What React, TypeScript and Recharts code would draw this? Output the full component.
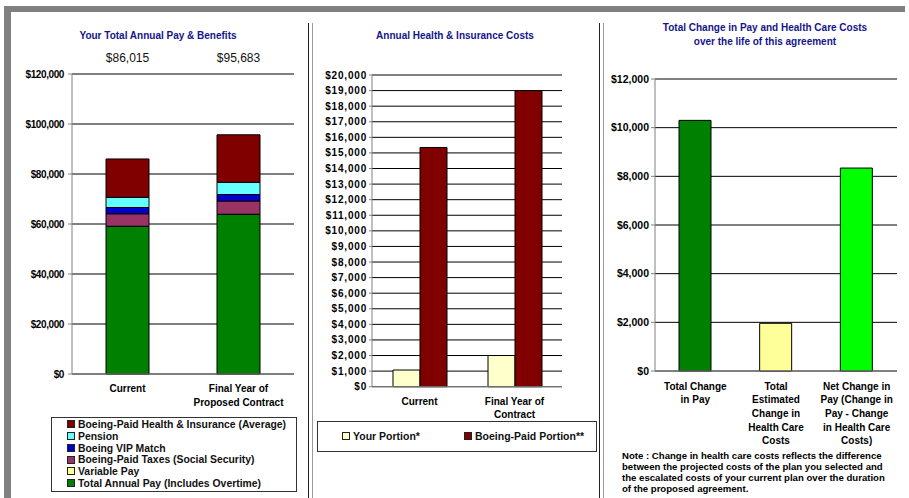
import { Bar, BarChart, CartesianGrid, Cell, XAxis, YAxis } from "recharts";

const FONT = '"Liberation Sans", Arial, Helvetica, sans-serif';
const NARROW = '"Liberation Sans Narrow", "Liberation Sans", Arial, sans-serif';
const TITLE_BLUE = "#14148c";
const AXIS_GRAY = "#808080";

// panel 1: total annual pay & benefits
const payCategories = ["Current", "Final Year of\nProposed Contract"];
const totalAnnualPay = [59100, 63900];
const variablePay = [0, 0];
const paidTaxes = [5000, 5300];
const vipMatch = [2500, 2600];
const pension = [4065, 4883];
const healthInsurance = [15350, 19000];
const payTicks = [0, 20000, 40000, 60000, 80000, 100000, 120000];

// panel 2: annual health & insurance costs
const healthCategories = ["Current", "Final Year of\nContract"];
const yourPortion = [1070, 2000];
const boeingPortion = [15350, 19000];
const healthTicks = [
  0, 1000, 2000, 3000, 4000, 5000, 6000, 7000, 8000, 9000, 10000, 11000, 12000,
  13000, 14000, 15000, 16000, 17000, 18000, 19000, 20000,
];

// panel 3: total change over the life of the agreement
const changeCategories = [
  "Total Change\nin Pay",
  "Total\nEstimated\nChange in\nHealth Care\nCosts",
  "Net Change in\nPay (Change in\nPay - Change\nin Health Care\nCosts)",
];
const changeValues = [10300, 1960, 8340];
const changeTicks = [0, 2000, 4000, 6000, 8000, 10000, 12000];
const changeColors = ["#008000", "#ffff99", "#00ff00"];

const noteLines = [
  "Note : Change in health care costs reflects the difference",
  "between the projected costs of the plan you selected and",
  "the escalated costs of your current plan over the duration",
  "of the proposed agreement.",
];

const paySeries = [
  { key: "pay", name: "Total Annual Pay (Includes Overtime)", values: totalAnnualPay, color: "#008000" },
  { key: "variable", name: "Variable Pay", values: variablePay, color: "#ffff99" },
  { key: "taxes", name: "Boeing-Paid Taxes (Social Security)", values: paidTaxes, color: "#993366" },
  { key: "vip", name: "Boeing VIP Match", values: vipMatch, color: "#0000cc" },
  { key: "pension", name: "Pension", values: pension, color: "#66ffff" },
  { key: "health", name: "Boeing-Paid Health & Insurance (Average)", values: healthInsurance, color: "#800000" },
];

const healthSeries = [
  { key: "yours", name: "Your Portion*", values: yourPortion, color: "#ffffcc" },
  { key: "boeing", name: "Boeing-Paid Portion**", values: boeingPortion, color: "#800000" },
];

const payRows = payCategories.map((category, i) => {
  const row: Record<string, any> = { category };
  let total = 0;
  paySeries.forEach((s) => {
    row[s.key] = s.values[i];
    total += s.values[i];
  });
  row.total = total;
  return row;
});

const healthRows = healthCategories.map((category, i) => {
  const row: Record<string, any> = { category };
  healthSeries.forEach((s) => (row[s.key] = s.values[i]));
  return row;
});

const changeRows = changeCategories.map((category, i) => ({ category, value: changeValues[i] }));

const money = (v: number) => "$" + Number(v).toLocaleString("en-US");

function MultiLineTick(props: any) {
  const { x, y, payload, dy, lineHeight } = props;
  const lines = String(payload.value).split("\n");
  return (
    <text x={x} y={y} textAnchor="middle" fontSize={10} fontWeight="bold" fill="#000" fontFamily={FONT}>
      {lines.map((line, i) => (
        <tspan key={i} x={x} dy={i === 0 ? dy : lineHeight}>
          {line}
        </tspan>
      ))}
    </text>
  );
}

const Swatch = ({ color }: { color: string }) => (
  <span
    style={{
      display: "inline-block",
      width: 6,
      height: 6,
      border: "1px solid #222",
      background: color,
      marginRight: 3,
      verticalAlign: "middle",
      position: "relative",
      top: -1,
    }}
  />
);

const abs = (left: number, top: number, extra: any = {}) => ({ position: "absolute" as const, left, top, ...extra });

export default function App() {
  return (
    <div style={abs(0, 0, { width: 909, height: 498, background: "#fff", overflow: "hidden", fontFamily: FONT })}>
      {/* frame */}
      <div style={abs(4, 6, { width: 901, height: 6, background: AXIS_GRAY })} />
      <div style={abs(4, 6, { width: 7, height: 492, background: AXIS_GRAY })} />
      <div style={abs(307.5, 23, { width: 1.2, height: 475, background: "#222" })} />
      <div style={abs(312, 23, { width: 1.3, height: 475, background: "#999" })} />
      <div style={abs(599, 23, { width: 1.2, height: 475, background: "#222" })} />
      <div style={abs(602.7, 23, { width: 1.3, height: 475, background: "#999" })} />

      {/* panel 1 */}
      <div style={abs(0, 30, { width: 316, textAlign: "center", fontSize: 10, fontWeight: "bold", color: TITLE_BLUE })}>
        Your Total Annual Pay &amp; Benefits
      </div>
      <div style={abs(0, 0)}>
        <BarChart
          width={305}
          height={498}
          data={payRows}
          margin={{ top: 54, right: 11, bottom: 94, left: 12 }}
          barSize={43}
          style={{ fontFamily: FONT }}
        >
          <CartesianGrid vertical={false} stroke="#000" />
          <XAxis
            dataKey="category"
            height={30}
            interval={0}
            tickSize={0}
            tickMargin={0}
            axisLine={{ stroke: AXIS_GRAY }}
            tickLine={false}
            tick={(p: any) => <MultiLineTick {...p} dy={17.6} lineHeight={14} />}
          />
          <XAxis
            xAxisId="top"
            orientation="top"
            dataKey="total"
            height={20}
            interval={0}
            tickSize={0}
            tickMargin={12}
            tickFormatter={money}
            axisLine={{ stroke: AXIS_GRAY }}
            tickLine={false}
            tick={{ fontSize: 12, fill: "#111" }}
          />
          <YAxis
            width={60}
            domain={[0, 120000]}
            ticks={payTicks}
            tickFormatter={money}
            tickSize={4}
            tickMargin={4}
            axisLine={{ stroke: AXIS_GRAY }}
            tickLine={{ stroke: AXIS_GRAY }}
            tick={{ fontSize: 10, fontWeight: "bold", fill: "#000", letterSpacing: -0.4 }}
          />
          <YAxis yAxisId="right" orientation="right" width={0} tick={false} tickLine={false} axisLine={{ stroke: AXIS_GRAY }} />
          {paySeries.map((s) => (
            <Bar key={s.key} dataKey={s.key} name={s.name} stackId="a" fill={s.color} stroke="#000" strokeWidth={1} isAnimationActive={false} />
          ))}
        </BarChart>
      </div>
      <div
        style={abs(51, 417, {
          width: 246,
          height: 75,
          border: "1px solid #333",
          padding: "1px 0 0 15px",
          boxSizing: "border-box",
          fontSize: 10.4,
          fontWeight: "bold",
          lineHeight: "11.8px",
          color: "#111",
        })}
      >
        {[...paySeries].reverse().map((s) => (
          <div key={s.key} style={{ whiteSpace: "nowrap" }}>
            <Swatch color={s.color} />
            {s.name}
          </div>
        ))}
      </div>

      {/* panel 2 */}
      <div style={abs(305, 30, { width: 300, textAlign: "center", fontSize: 10, fontWeight: "bold", color: TITLE_BLUE })}>
        Annual Health &amp; Insurance Costs
      </div>
      <div style={abs(305, 0)}>
        <BarChart
          width={295}
          height={498}
          data={healthRows}
          margin={{ top: 75, right: 38, bottom: 81.3, left: 12 }}
          barSize={27}
          barGap={0}
          style={{ fontFamily: FONT }}
        >
          <CartesianGrid vertical={false} stroke="#000" />
          <XAxis
            dataKey="category"
            height={30}
            interval={0}
            tickSize={0}
            tickMargin={0}
            axisLine={{ stroke: AXIS_GRAY }}
            tickLine={false}
            tick={(p: any) => <MultiLineTick {...p} dy={18} lineHeight={13.3} />}
          />
          <XAxis xAxisId="top" orientation="top" dataKey="category" height={0} tick={false} tickLine={false} axisLine={{ stroke: AXIS_GRAY }} />
          <YAxis
            width={55}
            domain={[0, 20000]}
            ticks={healthTicks}
            interval={0}
            tickFormatter={money}
            tickSize={3}
            tickMargin={2}
            axisLine={{ stroke: AXIS_GRAY }}
            tickLine={{ stroke: AXIS_GRAY }}
            tick={{ fontSize: 10, fontWeight: "bold", fill: "#000", letterSpacing: 0.8 }}
          />
          <YAxis yAxisId="right" orientation="right" width={0} tick={false} tickLine={false} axisLine={{ stroke: AXIS_GRAY }} />
          {healthSeries.map((s) => (
            <Bar key={s.key} dataKey={s.key} name={s.name} fill={s.color} stroke="#000" strokeWidth={1} isAnimationActive={false} />
          ))}
        </BarChart>
      </div>
      <div
        style={abs(317, 421, {
          width: 280,
          height: 31,
          border: "1px solid #333",
          boxSizing: "border-box",
          fontSize: 10.5,
          fontWeight: "bold",
          color: "#111",
        })}
      >
        {healthSeries.map((s, i) => (
          <div key={s.key} style={abs(i === 0 ? 24 : 146, 7, { whiteSpace: "nowrap", lineHeight: "14px" })}>
            <Swatch color={s.color} />
            {s.name}
          </div>
        ))}
      </div>

      {/* panel 3 */}
      <div
        style={abs(610, 21, {
          width: 310,
          textAlign: "center",
          fontSize: 10,
          fontWeight: "bold",
          color: TITLE_BLUE,
          lineHeight: "14px",
        })}
      >
        Total Change in Pay and Health Care Costs
        <br />
        over the life of this agreement
      </div>
      <div style={abs(600, 0)}>
        <BarChart
          width={309}
          height={498}
          data={changeRows}
          margin={{ top: 79, right: 12, bottom: 47, left: 10 }}
          barSize={32}
          style={{ fontFamily: FONT }}
        >
          <CartesianGrid vertical={false} stroke="#000" />
          <XAxis
            dataKey="category"
            height={80}
            interval={0}
            tickSize={0}
            tickMargin={0}
            axisLine={{ stroke: AXIS_GRAY }}
            tickLine={false}
            tick={(p: any) => <MultiLineTick {...p} dy={18.6} lineHeight={13.7} />}
          />
          <XAxis xAxisId="top" orientation="top" dataKey="category" height={0} tick={false} tickLine={false} axisLine={{ stroke: AXIS_GRAY }} />
          <YAxis
            width={45}
            domain={[0, 12000]}
            ticks={changeTicks}
            tickFormatter={money}
            tickSize={4}
            tickMargin={2}
            axisLine={{ stroke: AXIS_GRAY }}
            tickLine={{ stroke: AXIS_GRAY }}
            tick={{ fontSize: 10.5, fontWeight: "bold", fill: "#000", fontFamily: NARROW }}
          />
          <YAxis yAxisId="right" orientation="right" width={0} tick={false} tickLine={false} axisLine={{ stroke: AXIS_GRAY }} />
          <Bar dataKey="value" stroke="#000" strokeWidth={1} isAnimationActive={false}>
            {changeRows.map((r, i) => (
              <Cell key={r.category} fill={changeColors[i]} />
            ))}
          </Bar>
        </BarChart>
      </div>
      <div
        style={abs(622, 450, {
          fontSize: 9.6,
          fontWeight: "bold",
          color: "#000",
          lineHeight: "11px",
          whiteSpace: "pre",
        })}
      >
        {noteLines.join("\n")}
      </div>
    </div>
  );
}
